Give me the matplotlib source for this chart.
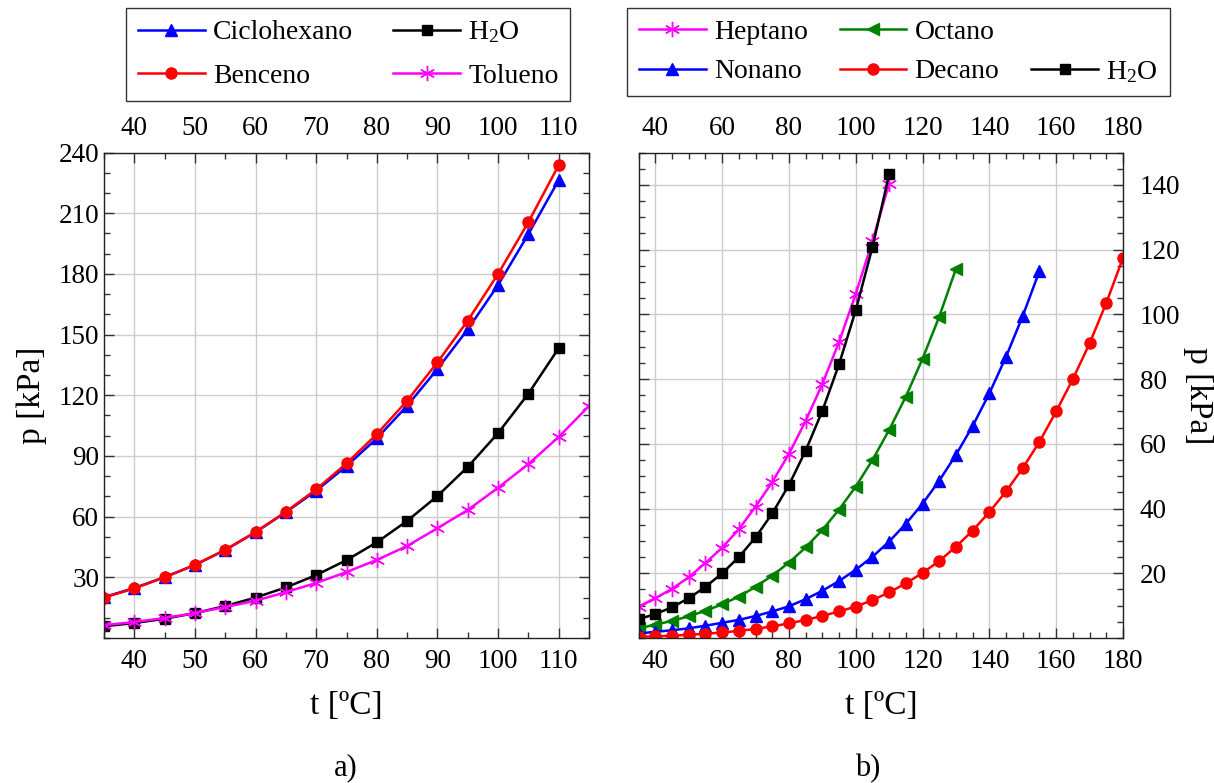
"""
Vapour pressure curves: a) aromatics/cyclohexane vs water, b) n-alkanes vs water.
"""

import matplotlib

matplotlib.use("Agg")
import matplotlib.pyplot as plt
from matplotlib.lines import Line2D
from matplotlib.ticker import MultipleLocator

plt.rcParams["font.family"] = ["Liberation Serif", "DejaVu Serif"]
plt.rcParams["mathtext.fontset"] = "custom"
plt.rcParams["mathtext.rm"] = "Liberation Serif"
plt.rcParams["mathtext.it"] = "Liberation Serif:italic"

# temperatures [ºC]
T_35_110 = [35, 40, 45, 50, 55, 60, 65, 70, 75, 80, 85, 90, 95, 100, 105, 110]
T_35_115 = T_35_110 + [115]
T_35_130 = T_35_115 + [120, 125, 130]
T_35_155 = T_35_130 + [135, 140, 145, 150, 155]
T_35_180 = T_35_155 + [160, 165, 170, 175, 180]

# pressures [kPa], panel a)
P_CICLOHEXANO = [20.2, 24.7, 30.1, 36.1, 43.5, 52.3, 62.2, 72.8, 85.0, 98.7, 114.8, 133.0, 152.6, 174.5, 199.7, 226.4]
P_BENCENO = [20.0, 24.5, 30.0, 36.2, 43.6, 52.4, 62.4, 73.5, 86.3, 100.8, 117.3, 136.3, 156.9, 180.0, 205.6, 233.8]
P_H2O = [5.8, 7.4, 9.5, 12.3, 15.8, 20.0, 25.0, 31.1, 38.5, 47.3, 57.9, 70.2, 84.6, 101.3, 120.8, 143.3]
P_TOLUENO = [6.3, 7.9, 9.9, 12.3, 15.3, 18.4, 22.7, 27.2, 32.6, 38.6, 45.5, 54.3, 63.3, 74.3, 86.0, 99.4, 114.7]

# pressures [kPa], panel b)
P_HEPTANO = [9.7, 12.3, 15.2, 18.8, 23.2, 27.9, 33.6, 40.6, 48.2, 56.9, 67.1, 78.5, 91.5, 106.3, 122.7, 140.4]
P_OCTANO = [3.0, 4.1, 5.3, 6.7, 8.4, 10.4, 12.8, 15.8, 19.3, 23.3, 28.0, 33.4, 39.7, 46.8, 55.0, 64.3,
            74.6, 86.3, 99.3, 114.1]
P_NONANO = [1.4, 1.9, 2.4, 3.0, 3.8, 4.7, 5.6, 6.8, 8.2, 9.8, 12.0, 14.6, 17.6, 21.1, 25.1, 29.8,
            35.3, 41.5, 48.6, 56.6, 65.5, 75.6, 86.9, 99.5, 113.4]
P_DECANO = [0.4, 0.5, 0.7, 1.0, 1.3, 1.7, 2.2, 2.8, 3.6, 4.5, 5.6, 6.8, 8.2, 9.7, 11.7, 14.1,
            16.9, 20.1, 23.8, 28.2, 33.2, 38.9, 45.3, 52.5, 60.6, 70.0, 80.0, 91.0, 103.5, 117.4]

H2O_LABEL = r"H$_{\mathrm{2}}$O"
TICK_SIZE = 19.5
LABEL_SIZE = 24
LEGEND_SIZE = 20


def style_axis(ax):
    ax.tick_params(which="both", direction="in", top=True, bottom=True, left=True, right=True,
                   labeltop=True, labelsize=TICK_SIZE, width=1.0, color="#333333")
    ax.tick_params(which="major", length=7)
    ax.tick_params(which="minor", length=4)
    ax.tick_params(axis="x", which="major", pad=8)
    ax.grid(True, which="major", color="#cccccc", linewidth=1.0)
    ax.set_axisbelow(True)
    for spine in ax.spines.values():
        spine.set_linewidth(1.0)
        spine.set_color("#222222")


def curve(ax, t, p, color, marker, label, ms=8):
    return ax.plot(t, p, color=color, marker=marker, markersize=ms, linewidth=1.8,
                   markeredgecolor=color, markerfacecolor=color, label=label)[0]


def add_legend(fig, handles, labels, ncol, x, spacing, colspace):
    fig.legend(handles, labels, ncol=ncol, loc="upper center", bbox_to_anchor=(x, 0.99),
               fontsize=LEGEND_SIZE, frameon=True, fancybox=False, edgecolor="#333333",
               framealpha=1, handlelength=2.4, handletextpad=0.3, columnspacing=colspace,
               borderpad=0.42, borderaxespad=0.0, labelspacing=spacing)


def main():
    fig = plt.figure(figsize=(12.14, 7.83), dpi=100)
    ax_a = fig.add_axes([0.0857, 0.1852, 0.3995, 0.6200])
    ax_b = fig.add_axes([0.5261, 0.1852, 0.3989, 0.6200])

    # panel a)
    h_cic = curve(ax_a, T_35_110, P_CICLOHEXANO, "#0000ff", "^", "Ciclohexano")
    h_ben = curve(ax_a, T_35_110, P_BENCENO, "#ff0000", "o", "Benceno")
    h_h2o = curve(ax_a, T_35_110, P_H2O, "#000000", "s", H2O_LABEL, ms=7)
    h_tol = curve(ax_a, T_35_115, P_TOLUENO, "#ff00ff", (6, 2, 0), "Tolueno", ms=11)
    ax_a.set_xlim(35, 115)
    ax_a.set_ylim(0, 240)
    ax_a.set_xticks([40, 50, 60, 70, 80, 90, 100, 110])
    ax_a.xaxis.set_minor_locator(MultipleLocator(5))
    ax_a.set_yticks([30, 60, 90, 120, 150, 180, 210, 240])
    ax_a.yaxis.set_minor_locator(MultipleLocator(10))
    style_axis(ax_a)
    ax_a.tick_params(labelright=False)
    ax_a.set_xlabel("t [ºC]", fontsize=LABEL_SIZE, labelpad=12)
    ax_a.set_ylabel("p [kPa]", fontsize=LABEL_SIZE, labelpad=8)
    add_legend(fig, [h_cic, h_ben, h_h2o, h_tol], ["Ciclohexano", "Benceno", H2O_LABEL, "Tolueno"],
               2, 0.287, 0.66, 1.45)

    # panel b)
    h_hep = curve(ax_b, T_35_110, P_HEPTANO, "#ff00ff", (6, 2, 0), "Heptano", ms=11)
    h_oct = curve(ax_b, T_35_130, P_OCTANO, "#008000", "<", "Octano")
    h_non = curve(ax_b, T_35_155, P_NONANO, "#0000ff", "^", "Nonano")
    h_dec = curve(ax_b, T_35_180, P_DECANO, "#ff0000", "o", "Decano")
    h_w = curve(ax_b, T_35_110, P_H2O, "#000000", "s", H2O_LABEL, ms=7)
    ax_b.set_xlim(35, 180)
    ax_b.set_ylim(0, 150)
    ax_b.set_xticks([40, 60, 80, 100, 120, 140, 160, 180])
    ax_b.xaxis.set_minor_locator(MultipleLocator(5))
    ax_b.set_yticks([20, 40, 60, 80, 100, 120, 140])
    ax_b.yaxis.set_minor_locator(MultipleLocator(5))
    style_axis(ax_b)
    ax_b.tick_params(labelleft=False, labelright=True)
    ax_b.tick_params(axis="y", which="major", pad=12)
    ax_b.set_xlabel("t [ºC]", fontsize=LABEL_SIZE, labelpad=12)
    ax_b.yaxis.set_label_position("right")
    ax_b.set_ylabel("p [kPa]", fontsize=LABEL_SIZE, rotation=-90, labelpad=24)
    blank = Line2D([], [], linestyle="none", marker="none")
    add_legend(fig, [h_hep, h_non, h_oct, h_dec, blank, h_w],
               ["Heptano", "Nonano", "Octano", "Decano", "", H2O_LABEL], 3, 0.740, 0.5, 1.15)

    fig.text(0.285, 0.019, "a)", fontsize=22, ha="center", va="center")
    fig.text(0.715, 0.019, "b)", fontsize=22, ha="center", va="center")

    fig.savefig("out.png", dpi=100)


if __name__ == "__main__":
    main()
